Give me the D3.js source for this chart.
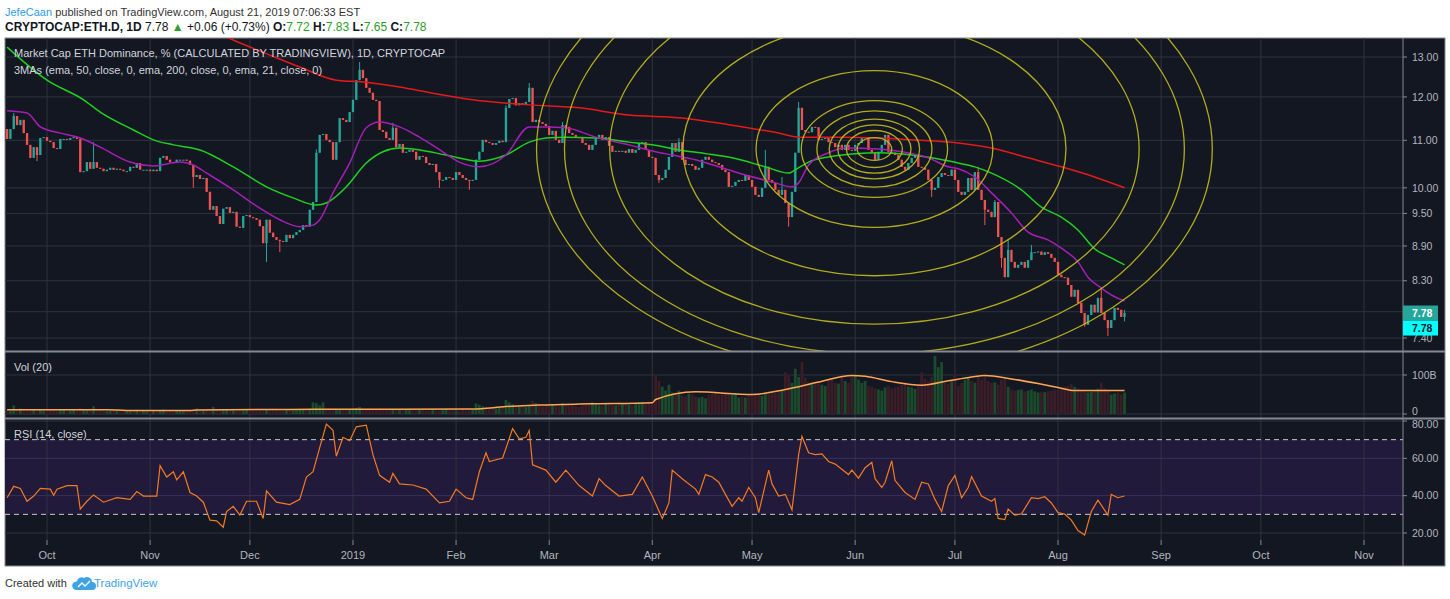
<!DOCTYPE html>
<html>
<head>
<meta charset="utf-8">
<script src="https://cdnjs.cloudflare.com/ajax/libs/d3/7.8.5/d3.min.js"></script>
<style>
  body { margin: 0; background: #fff; }
  svg { display: block; }
</style>
</head>
<body>
<svg id="chart" width="1450" height="599"></svg>
<script>
// ---- data (daily bars, first bar = 2018-09-19) ----
const firstDay = "2018-09-19";
const firstOpen = 11.25;
const closes = [
  11.03,11.25,11.55,11.34,11.46,11.16,10.90,10.62,10.85,10.68,
  11.05,11.07,10.99,10.96,10.83,10.81,11.03,11.03,11.01,11.05,
  11.07,11.03,10.32,10.34,10.53,10.39,10.53,10.41,10.39,10.34,
  10.37,10.41,10.37,10.39,10.37,10.34,10.34,10.43,10.41,10.51,
  10.37,10.37,10.37,10.34,10.37,10.34,10.62,10.66,10.58,10.53,
  10.51,10.58,10.58,10.58,10.56,10.47,10.22,10.26,10.18,10.20,
  9.92,9.57,9.64,9.45,9.30,9.59,9.62,9.51,9.53,9.25,
  9.23,9.45,9.47,9.43,9.41,9.38,9.26,8.95,9.38,9.14,
  9.06,9.01,8.99,8.97,9.10,9.04,9.10,9.15,9.19,9.28,
  9.25,9.57,9.72,10.73,11.12,11.14,11.01,10.96,10.58,10.96,
  11.50,11.46,11.41,11.64,11.93,12.41,12.67,12.46,12.22,12.10,
  11.93,11.90,11.23,11.19,11.05,11.01,11.28,10.85,10.92,10.73,
  10.75,10.79,10.75,10.58,10.66,10.64,10.51,10.47,10.49,10.32,
  10.16,10.16,10.22,10.20,10.16,10.32,10.26,10.20,10.16,10.15,
  10.16,10.58,10.75,11.01,10.96,10.94,10.90,10.94,10.99,10.96,
  11.74,11.95,11.97,11.80,11.85,11.83,11.88,12.22,11.41,11.46,
  11.41,11.37,11.32,11.12,11.21,11.01,10.94,11.34,11.30,11.16,
  11.12,11.07,11.05,10.94,10.90,10.79,10.90,11.07,11.12,11.01,
  11.07,10.88,10.75,10.77,10.75,10.77,10.73,10.81,10.73,10.79,
  10.94,10.96,10.79,10.64,10.62,10.26,10.16,10.20,10.37,10.64,
  10.94,10.75,10.96,10.58,10.47,10.49,10.45,10.37,10.41,10.58,
  10.64,10.58,10.53,10.51,10.47,10.37,10.32,10.02,10.04,10.12,
  10.16,10.14,10.26,10.16,10.02,9.86,9.82,10.00,10.43,10.16,
  10.10,9.96,9.86,9.96,9.70,9.43,9.92,10.73,11.74,11.23,
  11.19,11.18,11.30,11.29,11.01,11.03,11.07,10.96,10.94,10.85,
  10.90,10.79,10.90,10.79,10.77,10.90,10.94,11.05,11.07,10.79,
  10.73,10.58,10.75,10.90,11.12,10.75,10.73,10.68,10.58,10.43,
  10.37,10.51,10.62,10.68,10.43,10.41,10.37,10.16,9.96,10.00,
  10.22,10.30,10.26,10.24,10.37,10.16,9.92,9.86,9.92,10.20,
  9.96,10.32,9.96,9.76,9.57,9.53,9.43,9.72,9.06,8.69,
  8.36,8.83,8.62,8.52,8.57,8.62,8.52,8.65,8.79,8.79,
  8.80,8.74,8.79,8.76,8.69,8.62,8.40,8.36,8.35,8.23,
  8.04,8.15,7.94,7.78,7.60,7.75,7.91,7.79,8.02,7.78,
  7.67,7.55,7.67,7.86,7.83,7.72,7.78
];
// visible wicks [bar index, price]
const wickHighs = [[2,11.62],[26,10.96],[93,10.80],[106,12.87],[116,11.39],[150,11.80],[157,12.34],
  [167,11.41],[202,11.05],[228,10.79],[233,10.22],[238,11.88],[292,10.43],[297,9.76],[301,9.01],
  [308,8.92],[329,8.18],[336,7.83]];
const wickLows = [[9,10.55],[56,10.00],[78,8.62],[82,8.79],[130,10.00],[139,9.96],[196,10.10],
  [235,9.25],[278,9.82],[294,9.28],[299,8.52],[324,7.57],[331,7.43],[336,7.65]];

// volume, billions
const volumes = [
  10,9,22,11,14,9,8,10,12,9,11,8,9,10,9,8,10,11,9,8,10,9,16,12,10,14,20,9,10,8,7,8,9,8,7,9,8,10,9,11,8,
  8,7,9,8,7,8,12,9,8,7,9,8,7,8,9,7,14,10,9,12,11,18,12,10,9,11,10,9,8,10,9,11,12,10,9,10,9,11,12,14,10,9,8,10,11,9,10,12,11,13,
  14,30,28,22,30,12,11,14,13,12,10,11,12,14,16,18,13,12,11,12,10,14,12,11,10,11,12,10,9,11,10,9,10,11,10,9,8,10,9,8,10,11,9,10,9,8,10,9,10,11,
  27,24,20,18,16,15,14,16,18,36,30,25,22,20,24,18,22,34,28,24,
  20,22,26,24,22,20,28,24,22,26,20,18,22,24,26,30,24,22,20,28,26,24,22,30,28,26,24,22,28,30,
  30,28,32,34,98,
  85,70,60,75,55,50,60,48,45,52,50,45,
  42,44,40,50,52,55,48,50,55,52,50,54,42,
  44,42,48,50,52,50,46,55,52,58,54,56,62,
  107,98,80,116,95,133,94,
  82,78,81,81,75,72,85,90,80,78,98,85,80,99,98,88,
  80,85,72,70,66,63,60,68,72,65,68,70,75,81,
  70,68,65,72,107,90,85,95,149,120,133,81,
  78,85,103,72,80,88,94,85,80,98,88,98,85,80,
  81,75,88,90,70,63,60,62,63,58,60,63,58,55,
  57,56,59,60,62,63,66,70,72,77,70,66,62,
  59,55,57,60,65,81,66,60,50,52,55,50,55
];
const volMaPts = [[0,11],[30,11],[36,9],[55,9],[57,10.5],[93,12],[140,13],[150,19],[160,23],[175,26],
  [194,29],[195,37],[207,57],[224,50],[234,63],[244,82],[254,99],[258,97],[266,83],[275,74],[283,85],
  [290,95],[294,99],[302,90],[310,78],[316,68],[321,60],[336,60]];

// moving averages [bar index, value]
const ema50Pts = [[0,13.26],[12,12.41],[23,11.93],[28,11.64],[38,11.23],[44,11.01],[50,10.90],[58,10.79],
  [68,10.43],[78,10.02],[86,9.80],[93,9.66],[96,9.70],[102,10.02],[108,10.51],[113,10.75],[118,10.83],
  [124,10.79],[132,10.68],[142,10.55],[150,10.68],[157,10.96],[162,11.05],[168,11.07],[177,11.05],
  [187,10.96],[194,10.90],[202,10.79],[210,10.71],[218,10.62],[228,10.43],[235,10.30],[237,10.37],
  [241,10.53],[247,10.64],[255,10.71],[262,10.73],[272,10.68],[278,10.62],[286,10.51],[291,10.43],
  [296,10.30],[305,9.96],[311,9.62],[317,9.43],[322,9.19],[327,8.85],[332,8.69],[336,8.57]];
const ema200Pts = [[58,13.87],[68,13.45],[79,13.05],[88,12.74],[99,12.41],[108,12.36],[118,12.24],
  [128,12.09],[140,11.93],[157,11.81],[172,11.74],[187,11.57],[202,11.51],[217,11.35],[232,11.16],
  [238,11.07],[252,11.07],[262,11.05],[272,11.01],[286,10.94],[296,10.83],[307,10.62],[317,10.43],
  [327,10.22],[336,10.00]];
const ema21Pts = [[0,11.67],[6,11.62],[10,11.30],[16,11.16],[22,11.05],[28,10.85],[37,10.53],[44,10.45],
  [52,10.53],[56,10.47],[60,10.30],[68,9.96],[76,9.60],[82,9.38],[88,9.25],[92,9.28],[94,9.38],[98,9.90],
  [103,10.51],[108,11.28],[112,11.41],[118,11.30],[124,11.07],[131,10.75],[136,10.53],[142,10.43],
  [150,10.68],[157,11.30],[162,11.30],[168,11.28],[177,11.07],[187,10.90],[195,10.75],[200,10.68],
  [207,10.58],[215,10.41],[222,10.26],[230,10.12],[236,10.02],[238,10.10],[241,10.47],[247,10.73],
  [252,10.83],[262,10.81],[269,10.75],[277,10.62],[283,10.43],[286,10.39],[291,10.22],[296,9.90],
  [302,9.51],[307,9.15],[313,9.01],[317,8.86],[322,8.62],[325,8.36],[329,8.18],[332,8.07],[336,7.97]];

// RSI(14) turning points [bar index, value]
const rsiPts = [[0,38.9],[2,45],[4,43.9],[6,37],[8,39.8],[10,43.9],[13,43.5],[14,40.2],[15,43.5],[18,45.4],
  [21,45.4],[22,32.8],[24,37],[26,40.4],[29,36.5],[33,38.9],[37,38],[39,42.2],[41,39.8],[45,39.8],[46,56.1],
  [48,50],[50,52.8],[51,48.5],[53,52.8],[55,41.7],[57,39.8],[59,36.5],[61,26.9],[63,26.5],[65,23.1],[66,31.5],
  [68,34.3],[70,29.6],[72,37],[75,37],[77,27.8],[78,42.6],[81,36.5],[85,35.2],[88,38],[90,50],[92,52.8],
  [94,65.7],[96,78.3],[98,75],[99,61.1],[101,71.3],[103,69.4],[105,76.9],[108,77.8],[110,62],[112,50.9],
  [115,47.2],[116,51.9],[118,46.3],[122,45.7],[126,43.5],[130,36.1],[133,37],[135,43.5],[138,38.9],[140,38],
  [142,52.8],[144,63],[145,58.3],[149,60.2],[152,75.9],[154,70.4],[156,71.3],[157,75],[158,56.5],[162,53.7],
  [165,47.2],[168,53.7],[172,45.4],[176,39.8],[178,49.1],[180,45.4],[184,39.8],[188,40.7],[191,50],[194,39.8],
  [197,27.8],[199,36.1],[200,53.7],[203,49.1],[207,43.5],[208,40.7],[210,51.3],[212,50],[214,47.2],[216,40.7],
  [218,34.3],[220,38.9],[221,37],[223,44.4],[225,38.9],[226,30.9],[229,53.7],[230,46.3],[232,39.8],[234,40.7],
  [236,32.4],[238,62],[239,71.7],[241,63],[243,62],[245,62.4],[247,58.3],[249,56.9],[253,51.3],[254,53.7],
  [256,49.4],[258,55],[260,57.8],[261,49.1],[263,44.4],[264,47.2],[266,58.7],[267,48.1],[270,41.7],[273,38],
  [275,47.2],[277,46.3],[279,38],[281,31.5],[283,45.4],[285,50.9],[287,38.9],[289,44.4],[290,50.2],[293,39.8],
  [296,37],[297,38.4],[298,27.8],[300,27.2],[301,32.8],[303,29.6],[305,30.2],[308,38.9],[310,38.4],[312,39.4],
  [314,36.1],[316,30.9],[318,30.2],[320,26.9],[322,21.3],[324,18.9],[326,31.5],[328,37.6],[331,29.6],[332,40.7],
  [334,38.9],[336,39.8]];

// Fib circles drawing: centre and unit (level 1) anchor
const fibCenter = {date: "2019-06-06T19:00:00Z", price: 10.81};
const fibUnit = {date: "2019-06-28T19:00:00Z", price: 9.81};
const fibLevels = [0.236, 0.382, 0.5, 0.618, 0.786, 1, 1.618, 2.618, 3.618, 4.236, 4.618];

// axis ticks
const priceTicks = [13, 12, 11, 10, 9.5, 8.9, 8.3, 7.8, 7.4];
const volTicks = [0, 100];
const rsiTicks = [80, 60, 40, 20];
const monthTicks = ["2018-10-01","2018-11-01","2018-12-01","2019-01-01","2019-02-01","2019-03-01","2019-04-01",
  "2019-05-01","2019-06-01","2019-07-01","2019-08-01","2019-09-01","2019-10-01","2019-11-01"];
const monthLabels = ["Oct","Nov","Dec","2019","Feb","Mar","Apr","May","Jun","Jul","Aug","Sep","Oct","Nov"];

// ---- layout ----
const FONT = '"Liberation Sans", Arial, sans-serif';
const frame = {left: 5, right: 1445, top: 38, bottom: 566};
const axisX = 1403;
const mainPane = [38, 351], volPane = [352, 418], rsiPane = [419, 540];
const BG = "#131722", GRID = "#2f3340", TXT = "#b2b5be", SEP = "#868993";
const UP = "#26a69a", DOWN = "#ef5350";

const svg = d3.select("#chart").attr("font-family", FONT);
const t0 = new Date(firstDay + "T00:00:00Z");
const dayOf = i => d3.utcDay.offset(t0, i);

const x = d3.scaleUtc()
  .domain([new Date("2018-10-01T00:00:00Z"), new Date("2019-11-01T00:00:00Z")])
  .range([47, 1364]);
const yP = d3.scaleLog().domain([7.4, 13]).range([338, 57]);
const yV = d3.scaleLinear().domain([0, 100]).range([414, 375]);
const yR = d3.scaleLinear().domain([20, 80]).range([533, 421]);

const bars = closes.map((c, i) => {
  const o = i === 0 ? firstOpen : closes[i - 1];
  return {date: dayOf(i), o, c, h: Math.max(o, c), l: Math.min(o, c), v: volumes[i]};
});
wickHighs.forEach(([i, v]) => { bars[i].h = v; });
wickLows.forEach(([i, v]) => { bars[i].l = v; });
const dayW = x(dayOf(1)) - x(dayOf(0));

// page header
const h1 = svg.append("text").attr("x", 5).attr("y", 16).attr("font-size", 11);
h1.append("tspan").attr("fill", "#2f9be6").text("JefeCaan");
h1.append("tspan").attr("fill", "#333").text(" published on TradingView.com, August 21, 2019 07:06:33 EST");

const h2 = svg.append("text").attr("x", 5).attr("y", 31).attr("font-size", 12).attr("fill", "#131722");
h2.append("tspan").attr("font-weight", "bold").text("CRYPTOCAP:ETH.D, 1D");
h2.append("tspan").text(" 7.78 ");
h2.append("tspan").attr("fill", "#2ca02c").text("▲");
h2.append("tspan").text(" +0.06 (+0.73%) ");
[["O:", "7.72"], ["H:", "7.83"], ["L:", "7.65"], ["C:", "7.78"]].forEach(([k, v]) => {
  h2.append("tspan").attr("font-weight", "bold").text(k);
  h2.append("tspan").attr("fill", "#2ca02c").text(v + " ");
});

// chart background
svg.append("rect").attr("x", frame.left).attr("y", frame.top)
  .attr("width", frame.right - frame.left).attr("height", frame.bottom - frame.top)
  .attr("fill", BG).attr("stroke", SEP);

const defs = svg.append("defs");
defs.append("clipPath").attr("id", "clipMain").append("rect")
  .attr("x", frame.left).attr("y", mainPane[0]).attr("width", axisX - frame.left).attr("height", mainPane[1] - mainPane[0]);
defs.append("clipPath").attr("id", "clipPlot").append("rect")
  .attr("x", frame.left).attr("y", frame.top).attr("width", axisX - frame.left).attr("height", rsiPane[1] - frame.top);

// RSI band
svg.append("rect").attr("x", frame.left).attr("width", axisX - frame.left)
  .attr("y", yR(70)).attr("height", yR(30) - yR(70)).attr("fill", "#211a3b");

// grid
const grid = svg.append("g").attr("clip-path", "url(#clipPlot)");
grid.selectAll("line.vg").data(monthTicks).join("line")
  .attr("x1", d => x(new Date(d + "T00:00:00Z"))).attr("x2", d => x(new Date(d + "T00:00:00Z")))
  .attr("y1", frame.top).attr("y2", rsiPane[1]).attr("stroke", GRID);
grid.selectAll("line.pg").data(priceTicks).join("line")
  .attr("x1", frame.left).attr("x2", axisX).attr("y1", d => yP(d)).attr("y2", d => yP(d)).attr("stroke", GRID);
grid.selectAll("line.volg").data(volTicks).join("line")
  .attr("x1", frame.left).attr("x2", axisX).attr("y1", d => yV(d)).attr("y2", d => yV(d)).attr("stroke", GRID);
grid.selectAll("line.rg").data(rsiTicks).join("line")
  .attr("x1", frame.left).attr("x2", axisX).attr("y1", d => yR(d)).attr("y2", d => yR(d))
  .attr("stroke", d => (d === 60 || d === 40) ? "#3a3159" : GRID);
grid.selectAll("line.rd").data([70, 30]).join("line")
  .attr("x1", frame.left).attr("x2", axisX).attr("y1", d => yR(d)).attr("y2", d => yR(d))
  .attr("stroke", "#c9cbd1").attr("stroke-dasharray", "5,4");

// candles
const gMain = svg.append("g").attr("clip-path", "url(#clipMain)");
gMain.selectAll("line.wick").data(bars).join("line")
  .attr("x1", d => x(d.date)).attr("x2", d => x(d.date))
  .attr("y1", d => yP(d.h)).attr("y2", d => yP(d.l))
  .attr("stroke", d => d.c >= d.o ? UP : DOWN);
gMain.selectAll("rect.body").data(bars).join("rect")
  .attr("x", d => x(d.date) - dayW * 0.35).attr("width", dayW * 0.7)
  .attr("y", d => yP(Math.max(d.o, d.c)))
  .attr("height", d => Math.max(1, Math.abs(yP(d.o) - yP(d.c))))
  .attr("fill", d => d.c >= d.o ? UP : DOWN);

// moving averages
const maLine = d3.line().x(d => x(dayOf(d[0]))).y(d => yP(d[1])).curve(d3.curveMonotoneX);
[[ema200Pts, "#e31a1a"], [ema50Pts, "#1fd11f"], [ema21Pts, "#a51fb5"]].forEach(([pts, col]) => {
  gMain.append("path").attr("d", maLine(pts)).attr("fill", "none").attr("stroke", col).attr("stroke-width", 1.5);
});

// fib circles
const fcx = x(new Date(fibCenter.date)), fcy = yP(fibCenter.price);
const ux = Math.abs(x(new Date(fibUnit.date)) - fcx), uy = Math.abs(yP(fibUnit.price) - fcy);
gMain.selectAll("ellipse.fib").data(fibLevels).join("ellipse")
  .attr("cx", fcx).attr("cy", fcy).attr("rx", l => l * ux).attr("ry", l => l * uy)
  .attr("fill", "none").attr("stroke", "#c4bb1e").attr("stroke-width", 1.3).attr("opacity", 0.9);

// volume
svg.append("g").selectAll("rect").data(bars).join("rect")
  .attr("x", d => x(d.date) - dayW * 0.42).attr("width", dayW * 0.84)
  .attr("y", d => yV(d.v)).attr("height", d => yV(0) - yV(d.v))
  .attr("fill", d => d.c >= d.o ? "#1b4a2c" : "#3b1d27");
svg.append("path")
  .attr("d", d3.line().x(d => x(dayOf(d[0]))).y(d => yV(d[1])).curve(d3.curveMonotoneX)(volMaPts))
  .attr("fill", "none").attr("stroke", "#ffa552").attr("stroke-width", 1.5);

// RSI
svg.append("path")
  .attr("d", d3.line().x(d => x(dayOf(d[0]))).y(d => yR(d[1]))(rsiPts))
  .attr("fill", "none").attr("stroke", "#f27a22").attr("stroke-width", 1.2);

// pane separators and price axis line
svg.selectAll("line.sep").data([mainPane[1] + 0.5, volPane[1] + 0.5]).join("line")
  .attr("x1", frame.left).attr("x2", frame.right).attr("y1", d => d).attr("y2", d => d)
  .attr("stroke", SEP).attr("stroke-width", 2);
svg.append("line").attr("x1", axisX).attr("x2", axisX).attr("y1", frame.top).attr("y2", frame.bottom).attr("stroke", SEP);

// right axis labels (shift keeps labels at pane edges apart)
const axisLabels = (ticks, scale, fmt, shift) => {
  const g = svg.append("g");
  g.selectAll("line").data(ticks).join("line")
    .attr("x1", axisX).attr("x2", axisX + 4).attr("y1", d => scale(d)).attr("y2", d => scale(d)).attr("stroke", SEP);
  g.selectAll("text").data(ticks).join("text")
    .attr("x", axisX + 9).attr("y", d => scale(d) + (shift ? shift(d) : 0)).attr("dy", "0.35em")
    .attr("font-size", 10.5).attr("fill", TXT).text(fmt);
};
axisLabels(priceTicks, yP, d3.format(".2f"));
axisLabels(volTicks, yV, d => d === 0 ? "0" : d + "B", d => d === 0 ? -3 : 0);
axisLabels(rsiTicks, yR, d3.format(".2f"), d => d === 80 ? 3 : 0);

// last price badges
const last = bars[bars.length - 1];
const ly = yP(last.c);
[[ly, last.c >= last.o ? UP : DOWN, "#fff"], [ly + 15, "#00ffff", "#131722"]].forEach(([cy, fill, tc]) => {
  svg.append("rect").attr("x", axisX).attr("y", cy - 7.5).attr("width", 35).attr("height", 15).attr("fill", fill);
  svg.append("text").attr("x", axisX + 9).attr("y", cy).attr("dy", "0.35em")
    .attr("font-size", 10.5).attr("font-weight", "bold").attr("fill", tc).text(last.c.toFixed(2));
});

// time axis
const gT = svg.append("g");
gT.selectAll("line").data(monthTicks).join("line")
  .attr("x1", d => x(new Date(d + "T00:00:00Z"))).attr("x2", d => x(new Date(d + "T00:00:00Z")))
  .attr("y1", rsiPane[1]).attr("y2", rsiPane[1] + 5).attr("stroke", SEP);
gT.selectAll("text").data(monthTicks).join("text")
  .attr("x", d => x(new Date(d + "T00:00:00Z"))).attr("y", 559).attr("text-anchor", "middle")
  .attr("font-size", 11).attr("fill", TXT).text((d, i) => monthLabels[i]);

// pane legends
const legend = (txt, yy) => svg.append("text").attr("x", 14).attr("y", yy)
  .attr("font-size", 11).attr("fill", "#d1d4dc").text(txt);
legend("Market Cap ETH Dominance, % (CALCULATED BY TRADINGVIEW), 1D, CRYPTOCAP", 57);
legend("3MAs (ema, 50, close, 0, ema, 200, close, 0, ema, 21, close, 0)", 74);
legend("Vol (20)", 371);
legend("RSI (14, close)", 438);

// footer
const foot = svg.append("g");
foot.append("text").attr("x", 5).attr("y", 587).attr("font-size", 11).attr("fill", "#333").text("Created with");
foot.append("path")
  .attr("d", "M76,590 h16 a4,4 0 0 0 0,-8 a5,5 0 0 0 -8,-4 a4.5,4.5 0 0 0 -7,3.5 a4,4 0 0 0 -1,8.5 z")
  .attr("fill", "#3ea3e6");
foot.append("path").attr("d", "M78,587 l4,-4 l3,3 l5,-5").attr("fill", "none").attr("stroke", "#fff").attr("stroke-width", 1.4);
foot.append("text").attr("x", 94).attr("y", 587).attr("font-size", 11.5).attr("fill", "#3ea3e6").text("TradingView");
</script>
</body>
</html>
